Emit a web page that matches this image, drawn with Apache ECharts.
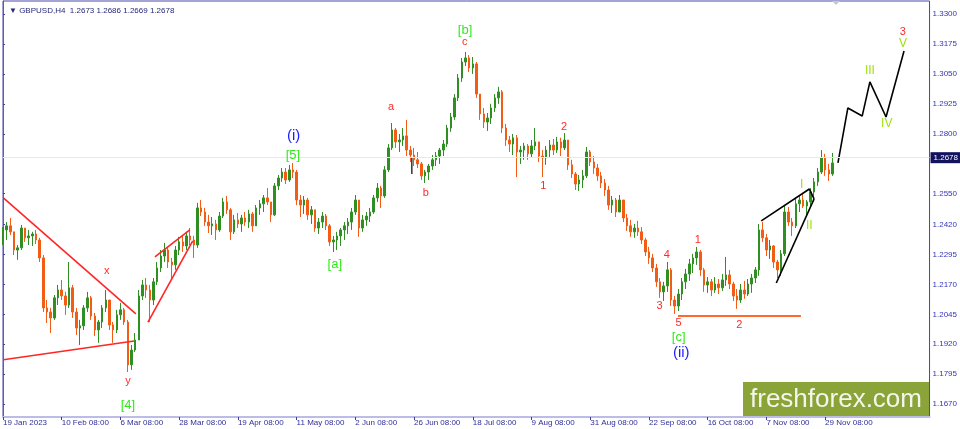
<!DOCTYPE html>
<html><head><meta charset="utf-8">
<script src="https://cdn.jsdelivr.net/npm/echarts@6/dist/echarts.min.js"></script>
<style>html,body{margin:0;padding:0;background:#fff}#c{width:960px;height:429px}</style>
</head><body><div id="c"></div><script>
// ---- tick labels ----
const dayLabels = ['19 Jan 2023','10 Feb 08:00','6 Mar 08:00','28 Mar 08:00','19 Apr 08:00','11 May 08:00','2 Jun 08:00','26 Jun 08:00','18 Jul 08:00','9 Aug 08:00','31 Aug 08:00','22 Sep 08:00','16 Oct 08:00','7 Nov 08:00','29 Nov 08:00'];
const dayTicks = [0,16,32,48,64,80,96,112,128,144,160,176,192,208,224];
const priceTicks = [1.1670,1.1795,1.1920,1.2045,1.2170,1.2295,1.2420,1.2550,1.2800,1.2925,1.3050,1.3175,1.3300];
const lastPrice = 1.2678;

// ---- OHLC (one candle per trading day) ----
const open = [1.2356,1.2398,1.2415,1.2390,1.2314,1.2323,1.2406,1.2365,1.2373,1.2381,
1.2356,1.2281,1.2072,1.2055,1.2030,1.2114,1.2147,1.2122,1.2084,1.2156,
1.2055,1.1988,1.1997,1.2072,1.2114,1.2038,1.1980,1.2013,1.2072,1.2105,
1.2001,1.1980,1.2043,1.2064,1.2013,1.1834,1.1896,1.1938,1.2122,1.2168,
1.2147,1.2105,1.2181,1.2239,1.2289,1.2314,1.2264,1.2252,1.2314,1.2348,
1.2331,1.2373,1.2356,1.2335,1.2490,1.2473,1.2431,1.2415,1.2423,1.2398,
1.2456,1.2515,1.2482,1.2390,1.2440,1.2423,1.2448,1.2431,1.2465,1.2415,
1.2490,1.2507,1.2532,1.2515,1.2461,1.2582,1.2615,1.2640,1.2607,1.2649,
1.2640,1.2523,1.2502,1.2523,1.2461,1.2482,1.2406,1.2431,1.2456,1.2415,
1.2348,1.2356,1.2373,1.2398,1.2415,1.2431,1.2473,1.2523,1.2406,1.2440,
1.2456,1.2473,1.2532,1.2573,1.2540,1.2649,1.2741,1.2816,1.2766,1.2774,
1.2791,1.2732,1.2711,1.2691,1.2674,1.2624,1.2640,1.2665,1.2691,1.2707,
1.2732,1.2757,1.2824,1.2870,1.2950,1.3033,1.3100,1.3117,1.3075,1.3092,
1.2966,1.2883,1.2849,1.2866,1.2908,1.2950,1.2975,1.2824,1.2774,1.2757,
1.2783,1.2724,1.2732,1.2749,1.2716,1.2749,1.2766,1.2707,1.2699,1.2732,
1.2753,1.2732,1.2766,1.2741,1.2774,1.2670,1.2632,1.2590,1.2607,1.2624,
1.2724,1.2682,1.2657,1.2624,1.2594,1.2565,1.2502,1.2523,1.2473,1.2523,
1.2448,1.2415,1.2390,1.2406,1.2390,1.2356,1.2306,1.2281,1.2239,1.2181,
1.2139,1.2164,1.2231,1.2105,1.2080,1.2130,1.2181,1.2214,1.2256,1.2281,
1.2306,1.2231,1.2168,1.2181,1.2147,1.2172,1.2156,1.2189,1.2210,1.2172,
1.2122,1.2105,1.2147,1.2130,1.2172,1.2197,1.2231,1.2398,1.2365,1.2314,
1.2331,1.2264,1.2231,1.2298,1.2473,1.2431,1.2415,1.2507,1.2523,1.2498,
1.2515,1.2557,1.2599,1.2640,1.2699,1.2649,1.2632];
const close = [1.2398,1.2415,1.2390,1.2314,1.2323,1.2406,1.2365,1.2373,1.2381,1.2356,
1.2281,1.2072,1.2055,1.2030,1.2114,1.2147,1.2122,1.2084,1.2156,1.2055,
1.1988,1.1997,1.2072,1.2114,1.2038,1.1980,1.2013,1.2072,1.2105,1.2001,
1.1980,1.2043,1.2064,1.2013,1.1834,1.1896,1.1938,1.2122,1.2168,1.2147,
1.2105,1.2181,1.2239,1.2289,1.2314,1.2264,1.2252,1.2314,1.2348,1.2331,
1.2373,1.2356,1.2335,1.2490,1.2473,1.2431,1.2415,1.2423,1.2398,1.2456,
1.2515,1.2482,1.2390,1.2440,1.2423,1.2448,1.2431,1.2465,1.2415,1.2490,
1.2507,1.2532,1.2515,1.2461,1.2582,1.2615,1.2640,1.2607,1.2649,1.2640,
1.2523,1.2502,1.2523,1.2461,1.2482,1.2406,1.2431,1.2456,1.2415,1.2348,
1.2356,1.2373,1.2398,1.2415,1.2431,1.2473,1.2523,1.2406,1.2440,1.2456,
1.2473,1.2532,1.2573,1.2540,1.2649,1.2741,1.2816,1.2766,1.2774,1.2791,
1.2732,1.2711,1.2691,1.2674,1.2624,1.2640,1.2665,1.2691,1.2707,1.2732,
1.2757,1.2824,1.2870,1.2950,1.3033,1.3100,1.3117,1.3075,1.3092,1.2966,
1.2883,1.2849,1.2866,1.2908,1.2950,1.2975,1.2824,1.2774,1.2757,1.2783,
1.2724,1.2732,1.2749,1.2716,1.2749,1.2766,1.2707,1.2699,1.2732,1.2753,
1.2732,1.2766,1.2741,1.2774,1.2670,1.2632,1.2590,1.2607,1.2624,1.2724,
1.2682,1.2657,1.2624,1.2594,1.2565,1.2502,1.2523,1.2473,1.2523,1.2448,
1.2415,1.2390,1.2406,1.2390,1.2356,1.2306,1.2281,1.2239,1.2181,1.2139,
1.2164,1.2231,1.2105,1.2080,1.2130,1.2181,1.2214,1.2256,1.2281,1.2306,
1.2231,1.2168,1.2181,1.2147,1.2172,1.2156,1.2189,1.2210,1.2172,1.2122,
1.2105,1.2147,1.2130,1.2172,1.2197,1.2231,1.2398,1.2365,1.2314,1.2331,
1.2264,1.2231,1.2298,1.2473,1.2431,1.2415,1.2507,1.2523,1.2498,1.2515,
1.2557,1.2599,1.2640,1.2699,1.2649,1.2632,1.2678];
const low = [1.2335,1.2356,1.2377,1.2293,1.2273,1.2314,1.2348,1.2335,1.2331,1.2339,
1.2264,1.2055,1.2009,1.1967,1.2022,1.2084,1.2105,1.2043,1.2072,1.2030,
1.1959,1.1917,1.1980,1.2055,1.2022,1.1955,1.1926,1.1988,1.2055,1.1980,
1.1926,1.1967,1.2022,1.2001,1.1804,1.1813,1.1888,1.1938,1.2105,1.2114,
1.2013,1.2084,1.2168,1.2222,1.2264,1.2239,1.2189,1.2231,1.2293,1.2306,
1.2314,1.2335,1.2281,1.2323,1.2456,1.2415,1.2385,1.2377,1.2356,1.2390,
1.2448,1.2465,1.2356,1.2381,1.2406,1.2390,1.2415,1.2406,1.2390,1.2415,
1.2461,1.2473,1.2502,1.2431,1.2456,1.2565,1.2599,1.2590,1.2599,1.2615,
1.2502,1.2452,1.2465,1.2440,1.2423,1.2390,1.2381,1.2406,1.2398,1.2331,
1.2306,1.2314,1.2331,1.2356,1.2381,1.2398,1.2461,1.2369,1.2390,1.2415,
1.2431,1.2465,1.2515,1.2490,1.2532,1.2640,1.2732,1.2741,1.2724,1.2749,
1.2707,1.2682,1.2665,1.2657,1.2607,1.2594,1.2607,1.2649,1.2665,1.2674,
1.2707,1.2745,1.2808,1.2858,1.2937,1.3017,1.3083,1.3058,1.3050,1.2950,
1.2858,1.2824,1.2812,1.2841,1.2891,1.2925,1.2803,1.2749,1.2724,1.2711,
1.2619,1.2674,1.2691,1.2691,1.2699,1.2732,1.2682,1.2619,1.2670,1.2703,
1.2711,1.2720,1.2707,1.2732,1.2649,1.2615,1.2565,1.2561,1.2573,1.2615,
1.2665,1.2632,1.2603,1.2573,1.2540,1.2482,1.2469,1.2452,1.2473,1.2431,
1.2394,1.2369,1.2365,1.2373,1.2339,1.2289,1.2256,1.2222,1.2160,1.2114,
1.2101,1.2139,1.2080,1.2047,1.2059,1.2105,1.2151,1.2185,1.2218,1.2252,
1.2206,1.2139,1.2135,1.2122,1.2135,1.2130,1.2143,1.2164,1.2151,1.2101,
1.2068,1.2093,1.2110,1.2122,1.2135,1.2176,1.2206,1.2348,1.2289,1.2277,
1.2239,1.2197,1.2206,1.2289,1.2415,1.2373,1.2406,1.2473,1.2490,1.2456,
1.2498,1.2540,1.2582,1.2632,1.2624,1.2603,1.2624];
const high = [1.2410,1.2431,1.2448,1.2390,1.2335,1.2419,1.2406,1.2398,1.2390,1.2398,
1.2365,1.2293,1.2105,1.2072,1.2126,1.2168,1.2189,1.2139,1.2264,1.2168,
1.2072,1.2022,1.2084,1.2139,1.2122,1.2051,1.2022,1.2084,1.2147,1.2105,
1.2013,1.2064,1.2093,1.2072,1.2022,1.1917,1.1967,1.2147,1.2189,1.2197,
1.2168,1.2197,1.2264,1.2314,1.2344,1.2323,1.2281,1.2331,1.2369,1.2373,
1.2390,1.2406,1.2373,1.2511,1.2523,1.2490,1.2461,1.2452,1.2440,1.2473,
1.2532,1.2540,1.2490,1.2461,1.2469,1.2461,1.2473,1.2482,1.2473,1.2502,
1.2523,1.2544,1.2573,1.2515,1.2594,1.2628,1.2657,1.2657,1.2670,1.2678,
1.2649,1.2544,1.2540,1.2532,1.2498,1.2482,1.2448,1.2473,1.2465,1.2423,
1.2373,1.2390,1.2406,1.2431,1.2448,1.2490,1.2544,1.2523,1.2461,1.2473,
1.2490,1.2544,1.2594,1.2582,1.2665,1.2757,1.2845,1.2824,1.2799,1.2824,
1.2858,1.2749,1.2741,1.2724,1.2682,1.2649,1.2674,1.2711,1.2724,1.2741,
1.2774,1.2837,1.2887,1.2966,1.3050,1.3117,1.3142,1.3129,1.3121,1.3100,
1.2966,1.2908,1.2887,1.2925,1.2966,1.2996,1.2983,1.2841,1.2791,1.2799,
1.2795,1.2749,1.2762,1.2757,1.2774,1.2824,1.2766,1.2732,1.2749,1.2774,
1.2778,1.2787,1.2783,1.2803,1.2774,1.2691,1.2640,1.2628,1.2649,1.2745,
1.2732,1.2707,1.2674,1.2640,1.2611,1.2582,1.2540,1.2532,1.2544,1.2523,
1.2465,1.2440,1.2423,1.2436,1.2410,1.2365,1.2327,1.2298,1.2256,1.2197,
1.2181,1.2264,1.2239,1.2122,1.2151,1.2197,1.2235,1.2277,1.2298,1.2327,
1.2314,1.2239,1.2201,1.2193,1.2201,1.2193,1.2214,1.2285,1.2231,1.2181,
1.2151,1.2172,1.2185,1.2193,1.2214,1.2243,1.2423,1.2431,1.2381,1.2356,
1.2335,1.2273,1.2314,1.2498,1.2494,1.2448,1.2532,1.2544,1.2553,1.2523,
1.2573,1.2615,1.2657,1.2732,1.2716,1.2674,1.2720];

// ---- wave labels (day index, price) ----
const annText = ['(i)','[5]','x','y','[4]','[a]','a','b','c','[b]','1','2','4','3','5','[c]','(ii)','1','2','I','II','III','IV','V','3'];
const annX = [79.2,79.0,28.3,34.05,34.05,90.4,105.7,115.2,125.8,125.9,147.2,152.9,180.9,178.9,184.1,184.1,184.8,189.3,200.6,217.6,219.7,236.2,240.8,245.2,245.2];
const annY = [1.2791,1.2711,1.2228,1.1767,1.1665,1.2255,1.2913,1.2554,1.3184,1.3231,1.2582,1.2830,1.2293,1.2080,1.2008,1.1949,1.1883,1.2356,1.2001,1.2589,1.2415,1.3063,1.2841,1.3178,1.3224];
const annKind = ['wave','minor','sub','sub','minor','minor','sub','sub','sub','minor','sub','sub','sub','sub','sub','minor','wave','sub','sub','roman','roman','roman','roman','roman','sub'];

// ---- drawn lines (day index, price) ----
const channelTop = [[0.1,1.2532],[36.2,1.2047]];
const channelBottom = [[0.1,1.1855],[35.7,1.1934]];
const wedgeTop = [[41.4,1.2285],[50.9,1.2398]];
const wedgeBottom = [[39.5,1.2013],[51.7,1.2352]];
const triTop = [[206.6,1.2436],[219.7,1.2569],[221.0,1.2528]];
const triBottom = [[210.7,1.2176],[221.0,1.2528]];
const forecast = [[227.5,1.2678],[230.2,1.2908],[234.1,1.2874],[236.2,1.3017],[240.6,1.2870],[245.5,1.3146]];
const supportLine = [[183.9,1.2038],[217.4,1.2038]];
const dojiWick = [[111.4,1.2703],[111.4,1.2632]];

const kindStyle = {
  wave: {color:'#1e1eff', fontSize:15},
  minor:{color:'#33e81a', fontSize:13},
  sub:  {color:'#ff2a2a', fontSize:11},
  roman:{color:'#a0e010', fontSize:12}
};
const FONT = '"Liberation Sans", Arial, sans-serif';

const chart = echarts.init(document.getElementById('c'), null, {renderer:'canvas'});
const candleData = open.map((o,i)=>[i,o,close[i],low[i],high[i]]);
const annData = annText.map((t,i)=>({
  value:[annX[i], annY[i]],
  label:{show:true, formatter:t, position:'inside', align:'center', verticalAlign:'middle', opacity:1,
    textBorderWidth:0, textBorderColor:'transparent', textShadowBlur:0,
    color:kindStyle[annKind[i]].color, fontSize:kindStyle[annKind[i]].fontSize, fontFamily:FONT}
}));
function seg(data, color, width, z){
  return {type:'line', data, symbol:'none', silent:true, z:z||4, clip:false,
    lineStyle:{color, width}, animation:false};
}

chart.setOption({
  animation:false,
  backgroundColor:'#ffffff',
  title:{text:'\u25BC GBPUSD,H4  1.2673 1.2686 1.2669 1.2678', left:4, top:2,
    textStyle:{fontSize:8, fontWeight:'normal', color:'#26267a', fontFamily:FONT}},
  grid:{left:2, right:29, top:1, bottom:12, show:true, borderColor:'#4646ac', borderWidth:1, backgroundColor:'#fff'},
  xAxis:{type:'value', min:0, max:252.45, splitLine:{show:false},
    axisLine:{show:true, lineStyle:{color:'#bcbce8', width:2}},
    axisTick:{show:true, length:3, customValues:dayTicks, lineStyle:{color:'#3a3aa0'}},
    axisLabel:{customValues:dayTicks, formatter:(v)=>dayLabels[Math.round(v/16)]||'', align:'left', margin:2,
      color:'#2e2e98', fontSize:8, fontFamily:FONT}},
  yAxis:{type:'value', position:'right', min:1.1616, max:1.3355, scale:true, splitLine:{show:false},
    axisLine:{show:true, lineStyle:{color:'#5a5acc'}},
    axisTick:{show:true, length:2, customValues:priceTicks, lineStyle:{color:'#4040b0'}},
    axisLabel:{customValues:priceTicks, formatter:(v)=>v.toFixed(4), margin:3, color:'#3434b8', fontSize:8, fontFamily:FONT}},
  series:[
    {type:'line', data:[], symbol:'none', silent:true, z:1,
      markLine:{symbol:'none', silent:true, data:[{yAxis:lastPrice}], lineStyle:{color:'#e8e8e8', width:1, type:'solid'},
        label:{position:'end', formatter:lastPrice.toFixed(4), distance:1, color:'#ffffff', backgroundColor:'#12125e',
          padding:[2,3,1,3], fontSize:8, fontFamily:FONT}}},
    {type:'candlestick', data:candleData, encode:{x:0, y:[1,2,3,4]}, barWidth:2, z:3,
      itemStyle:{color:'#2f8f22', color0:'#f25c14', borderColor:'#2f8f22', borderColor0:'#f25c14', borderWidth:1}},
    seg(dojiWick,'#000000',1.2,3),
    seg(channelTop,'#ff2626',1.6),
    seg(channelBottom,'#ff2626',1.6),
    seg(wedgeTop,'#ff2626',1.6),
    seg(wedgeBottom,'#ff2626',1.6),
    seg(triTop,'#000000',1.6),
    seg(triBottom,'#000000',1.6),
    seg(forecast,'#000000',1.6),
    seg(supportLine,'#ff6a2a',2),
    {type:'scatter', data:annData, symbol:'circle', symbolSize:1, itemStyle:{color:'#ffffff', opacity:1}, silent:true, z:6,
      emphasis:{disabled:true}}
  ],
  graphic:[
    {type:'polygon', shape:{points:[[832,1],[840,1],[836,5]]}, style:{fill:'#c8c8c8'}, z:10},
    {type:'group', left:743, top:382, z:10, children:[
      {type:'rect', shape:{x:0,y:0,width:186,height:35}, style:{fill:'#8aa43a'}},
      {type:'text', x:93, y:18, style:{text:'freshforex.com', fill:'#f4f6ea', fontSize:26, fontFamily:FONT, align:'center', verticalAlign:'middle'}}
    ]}
  ]
});
</script></body></html>
